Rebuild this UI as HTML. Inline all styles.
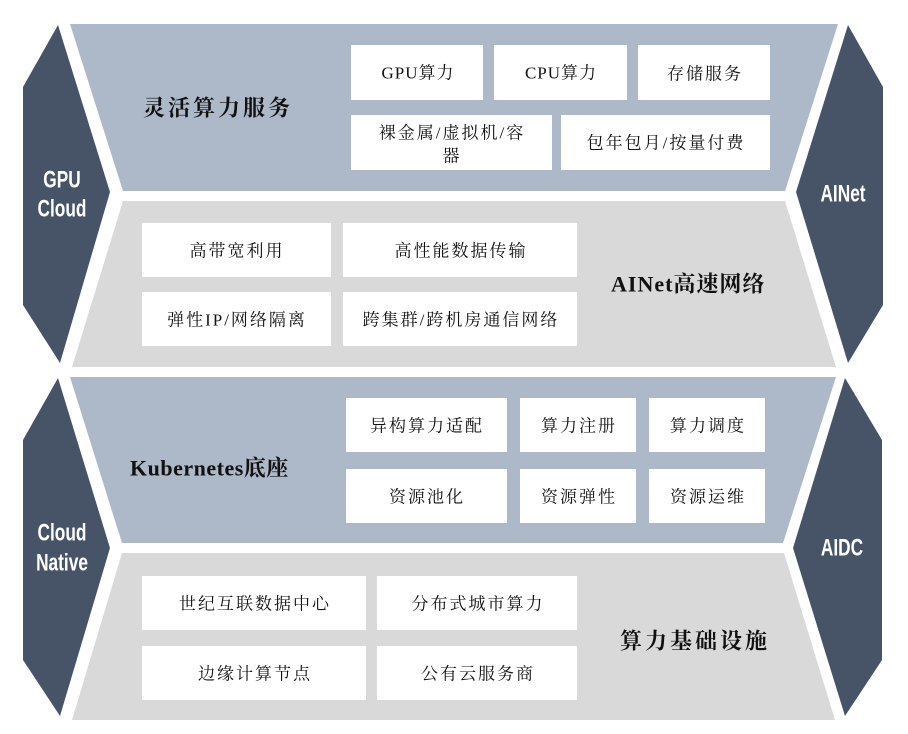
<!DOCTYPE html>
<html><head><meta charset="utf-8"><style>
html,body{margin:0;padding:0;background:#fff}
svg{display:block}
.t{font-family:"Liberation Serif","Noto Serif CJK SC",serif;font-size:17px;letter-spacing:2px;fill:#111;text-anchor:middle;dominant-baseline:central}
.h{font-family:"Liberation Serif","Noto Serif CJK SC",serif;font-size:22px;letter-spacing:3px;font-weight:bold;fill:#111;dominant-baseline:central}
.w{font-family:"Liberation Sans",sans-serif;font-size:24px;font-weight:bold;fill:#fff;text-anchor:middle;dominant-baseline:central}
</style></head><body>
<svg width="908" height="734" viewBox="0 0 908 734">
<rect width="908" height="734" fill="#fff"/>
<polygon points="70,24 838,24 785,191 123,191" fill="#adb8c9"/>
<polygon points="123,201 785,201 836,367 72,367" fill="#d9d9d9"/>
<polygon points="70,377 836,377 783,543 122,543" fill="#adb8c9"/>
<polygon points="122,553 784,553 835,720 72,720" fill="#d9d9d9"/>
<polygon points="58,25 110,192 60,363 23,305 23,87" fill="#475468"/>
<polygon points="58,378 110,548 60,716 23,660 23,440" fill="#475468"/>
<polygon points="848,25 796,192 848,363 883,305 883,87" fill="#475468"/>
<polygon points="845,378 793,548 845,716 882,660 882,440" fill="#475468"/>
<g transform="translate(62,194) scale(0.72,1)"><text class="w" x="0" y="-14">GPU</text><text class="w" x="0" y="15">Cloud</text></g>
<g transform="translate(62,548) scale(0.72,1)"><text class="w" x="0" y="-15">Cloud</text><text class="w" x="0" y="15">Native</text></g>
<g transform="translate(843,194) scale(0.72,1)"><text class="w" x="0" y="0">AINet</text></g>
<g transform="translate(842,548) scale(0.72,1)"><text class="w" x="0" y="0">AIDC</text></g>
<text class="h" x="143" y="108">灵活算力服务</text>
<text class="h" x="611" y="284" style="letter-spacing:1px">AINet高速网络</text>
<text class="h" x="130" y="468" style="letter-spacing:0.5px">Kubernetes底座</text>
<text class="h" x="620" y="641">算力基础设施</text>
<g fill="#fff">
<rect x="351" y="45" width="132" height="55"/><rect x="494" y="45" width="133" height="55"/><rect x="638" y="45" width="132" height="55"/>
<rect x="351" y="115" width="201" height="55"/><rect x="561" y="115" width="209" height="55"/>
<rect x="142" y="223" width="189" height="54"/><rect x="343" y="223" width="234" height="54"/>
<rect x="142" y="292" width="189" height="54"/><rect x="343" y="292" width="234" height="54"/>
<rect x="346" y="398" width="161" height="54"/><rect x="520" y="398" width="116" height="54"/><rect x="649" y="398" width="116" height="54"/>
<rect x="346" y="469" width="161" height="54"/><rect x="520" y="469" width="116" height="54"/><rect x="649" y="469" width="116" height="54"/>
<rect x="142" y="576" width="224" height="54"/><rect x="377" y="576" width="200" height="54"/>
<rect x="142" y="646" width="224" height="54"/><rect x="377" y="646" width="200" height="54"/>
</g>
<text class="t" x="418" y="73" style="letter-spacing:1px">GPU算力</text>
<text class="t" x="561" y="73" style="letter-spacing:1px">CPU算力</text>
<text class="t" x="705" y="74">存储服务</text>
<text class="t" x="452" y="133">裸金属/虚拟机/容</text>
<text class="t" x="452" y="156">器</text>
<text class="t" x="666" y="143">包年包月/按量付费</text>
<text class="t" x="237" y="251">高带宽利用</text>
<text class="t" x="461" y="251">高性能数据传输</text>
<text class="t" x="237" y="320">弹性IP/网络隔离</text>
<text class="t" x="461" y="320">跨集群/跨机房通信网络</text>
<text class="t" x="427" y="426">异构算力适配</text>
<text class="t" x="579" y="426">算力注册</text>
<text class="t" x="708" y="426">算力调度</text>
<text class="t" x="427" y="497">资源池化</text>
<text class="t" x="579" y="497">资源弹性</text>
<text class="t" x="708" y="497">资源运维</text>
<text class="t" x="255" y="604">世纪互联数据中心</text>
<text class="t" x="478" y="604">分布式城市算力</text>
<text class="t" x="255" y="674">边缘计算节点</text>
<text class="t" x="478" y="674">公有云服务商</text>
</svg>
</body></html>
